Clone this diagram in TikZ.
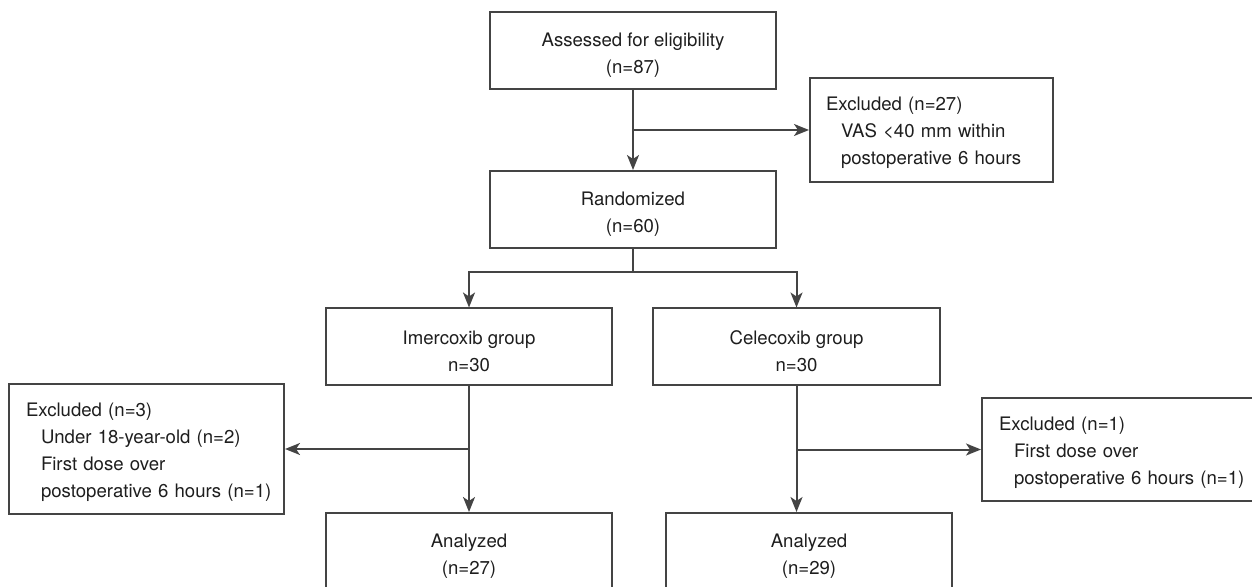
\documentclass[tikz,border=0pt]{standalone}
\usepackage{fontspec}
\setmainfont{TeX Gyre Heros}
\usetikzlibrary{arrows.meta}
\definecolor{linegray}{HTML}{444444}
\definecolor{textgray}{HTML}{1E1E1E}
\newcommand{\exitem}[1]{\hspace*{7.5pt}\mbox{#1}}
\newcommand{\boxtop}{\rule{0pt}{11.6pt}}
\newcommand{\extop}{\rule{0pt}{9.8pt}}
\begin{document}
\begin{tikzpicture}[
        x=0.5pt, y=-0.5pt,
        every node/.style={draw=linegray, line width=1pt, text=textgray,
            font={\fontsize{9.3pt}{13.5pt}\selectfont}, inner sep=0pt},
        box/.style={minimum width=143pt, minimum height=38.5pt, align=center},
        exbox/.style={inner xsep=8.5pt, text width=120.5pt, align=left},
        arr/.style={draw=linegray, line width=1pt, -{Stealth[length=7.5pt, width=6pt, inset=2pt]}},
        con/.style={draw=linegray, line width=1pt}
    ]
        \useasboundingbox (0,0) rectangle (1252,587);
        \clip (0,0) rectangle (1252,587);

        % Boxes
        \node[box] (assess) at (633,50.5) {\boxtop Assessed for eligibility\\(n=87)};
        \node[exbox, inner xsep=8pt, text width=105.5pt, minimum height=52pt] (exclA) at (931.5,130)
            {\extop Excluded (n=27)\\\exitem{VAS <40 mm within}\\\exitem{postoperative 6 hours}};
        \node[box] (rand) at (633,209.5) {\boxtop Randomized\\(n=60)};
        \node[box] (imer) at (469,347) {\boxtop Imercoxib group\\n=30};
        \node[box, minimum width=143.5pt] (cele) at (796.5,347) {\boxtop Celecoxib group\\n=30};
        \node[exbox, minimum height=65pt] (exclB) at (146.5,449)
            {\extop Excluded (n=3)\\\exitem{Under 18-year-old (n=2)}\\\exitem{First dose over}\\\exitem{postoperative 6 hours (n=1)}};
        \node[exbox, minimum height=51.5pt] (exclC) at (1119.5,449.5)
            {\extop Excluded (n=1)\\\exitem{First dose over}\\\exitem{postoperative 6 hours (n=1)}};
        \node[box] (anaA) at (469,551.5) {\boxtop Analyzed\\(n=27)};
        \node[box] (anaB) at (809,551.5) {\boxtop Analyzed\\(n=29)};

        % Connectors
        \coordinate (split) at (633,272);
        \draw[arr] (assess.south) -- (rand.north);
        \draw[arr] (assess.south |- exclA.west) -- (exclA.west);
        \draw[con] (rand.south) -- (split);
        \draw[arr] (split) -| (imer.north);
        \draw[arr] (split) -| (cele.north);
        \draw[arr] (imer.south) -- (anaA.north);
        \draw[arr] (imer.south |- exclB.east) -- (exclB.east);
        \draw[arr] (cele.south) -- (cele.south |- anaB.north);
        \draw[arr] (cele.south |- exclC.west) -- (exclC.west);
    \end{tikzpicture}
\end{document}
